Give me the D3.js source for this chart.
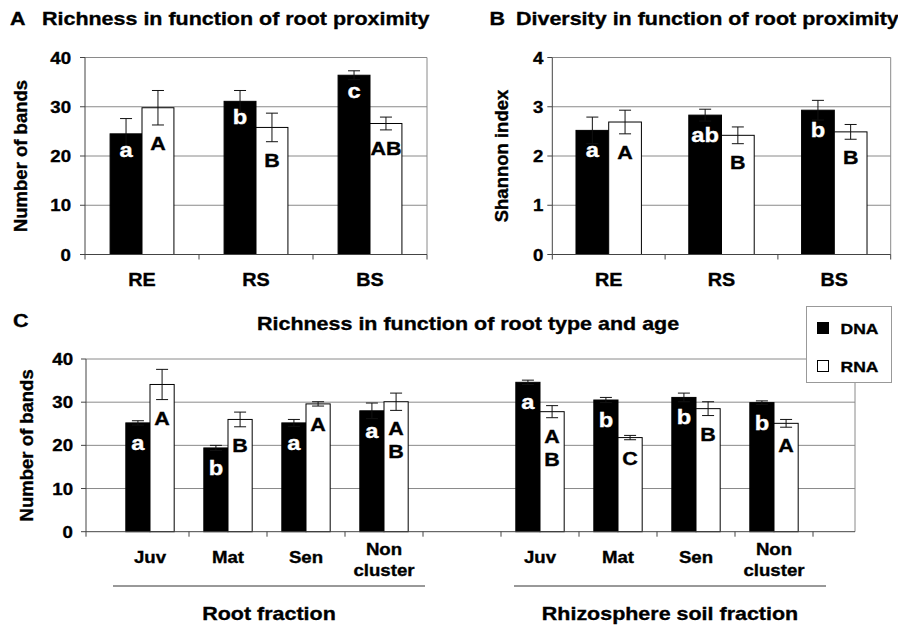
<!DOCTYPE html>
<html>
<head>
<meta charset="utf-8">
<script src="https://cdn.jsdelivr.net/npm/d3@7"></script>
<style>
  body { margin: 0; background: #fff; }
  text { font-family: "Liberation Sans", Arial, sans-serif; font-weight: bold; stroke-width: 0.35; }
</style>
</head>
<body>
<div id="chart"></div>
<script>
// ---- data ----
const proximityCats = ["RE", "RS", "BS"];

const richDNA = [24.5, 31.1, 36.4];
const richDNAErr = [3.1, 2.2, 0.9];
const richRNA = [29.8, 25.8, 26.6];
const richRNAErr = [3.5, 2.9, 1.3];
const richDNALetters = ["a", "b", "c"];
const richRNALetters = ["A", "B", "AB"];

const divDNA = [2.52, 2.83, 2.93];
const divDNAErr = [0.27, 0.12, 0.2];
const divRNA = [2.69, 2.42, 2.49];
const divRNAErr = [0.24, 0.17, 0.15];
const divDNALetters = ["a", "ab", "b"];
const divRNALetters = ["A", "B", "B"];

const ageCats = ["Juv", "Mat", "Sen", "Non cluster"];
const fractions = ["Root fraction", "Rhizosphere soil fraction"];

const rootDNA = [25.2, 19.4, 25.2, 28.0];
const rootDNAErr = [0.5, 0.6, 0.8, 1.8];
const rootRNA = [34.1, 26.0, 29.6, 30.1];
const rootRNAErr = [3.5, 1.7, 0.5, 2.0];
const rootDNALetters = ["a", "b", "a", "a"];
const rootRNALetters = ["A", "B", "A", "AB"];

const rhizoDNA = [34.6, 30.5, 31.1, 29.9];
const rhizoDNAErr = [0.5, 0.6, 1.0, 0.4];
const rhizoRNA = [27.8, 21.8, 28.5, 25.1];
const rhizoRNAErr = [1.4, 0.5, 1.6, 0.9];
const rhizoDNALetters = ["a", "b", "b", "b"];
const rhizoRNALetters = ["AB", "C", "B", "A"];

const seriesNames = ["DNA", "RNA"];

// ---- drawing ----
const svg = d3.select("#chart").append("svg")
    .attr("width", 898)
    .attr("height", 625);

const STRETCH = 1.13;   // the figure's lettering is a bit wider than Arial

function label(g, x, y, str, size, anchor, fill) {
    return g.append("text")
        .attr("transform", `translate(${x},${y}) scale(${STRETCH},1)`)
        .attr("text-anchor", anchor || "start")
        .attr("font-size", size)
        .attr("fill", fill || "#000")
        .attr("stroke", fill || "#000")
        .text(str);
}

function buildItems(cats, dna, dnaErr, rna, rnaErr, dl, rl, prefix) {
    return cats.map((c, i) => ({
        key: prefix + c, name: c,
        dna: dna[i], dnaErr: dnaErr[i], rna: rna[i], rnaErr: rnaErr[i],
        dl: dl[i], rl: rl[i]
    }));
}

function drawPanel(cfg) {
    const g = svg.append("g");

    const y = d3.scaleLinear().domain([0, cfg.max]).range([cfg.bottom, cfg.top]);
    const x = d3.scaleBand().domain(cfg.keys).range(cfg.band).padding(0);
    const bw = x.bandwidth() * cfg.barFrac;
    const ticks = y.ticks(4);

    // gridlines and plot frame
    g.selectAll(".grid")
        .data(ticks.filter(t => t > 0))
        .enter().append("line")
        .attr("x1", cfg.left).attr("x2", cfg.right)
        .attr("y1", d => y(d)).attr("y2", d => y(d))
        .attr("stroke", "#8a8a8a");
    g.append("line")
        .attr("x1", cfg.right).attr("x2", cfg.right)
        .attr("y1", y(cfg.max)).attr("y2", y(0))
        .attr("stroke", "#8a8a8a");

    const items = cfg.items;
    const cx = d => x(d.key) + x.bandwidth() / 2;

    // bars
    g.selectAll(".dna")
        .data(items).enter().append("rect")
        .attr("x", d => cx(d) - bw)
        .attr("y", d => y(d.dna))
        .attr("width", bw)
        .attr("height", d => y(0) - y(d.dna))
        .attr("fill", "#000")
        .attr("stroke", "#000");
    g.selectAll(".rna")
        .data(items).enter().append("rect")
        .attr("x", d => cx(d))
        .attr("y", d => y(d.rna))
        .attr("width", bw)
        .attr("height", d => y(0) - y(d.rna))
        .attr("fill", "#fff")
        .attr("stroke", "#000");

    // error bars
    const errs = [];
    items.forEach(d => {
        errs.push({ x: cx(d) - bw / 2, v: d.dna, e: d.dnaErr });
        errs.push({ x: cx(d) + bw / 2, v: d.rna, e: d.rnaErr });
    });
    const eb = g.selectAll(".err").data(errs).enter().append("g").attr("stroke", "#111");
    eb.append("line")
        .attr("x1", d => d.x).attr("x2", d => d.x)
        .attr("y1", d => y(d.v - d.e)).attr("y2", d => y(d.v + d.e));
    eb.append("line")
        .attr("x1", d => d.x - 6).attr("x2", d => d.x + 6)
        .attr("y1", d => y(d.v + d.e)).attr("y2", d => y(d.v + d.e));
    eb.append("line")
        .attr("x1", d => d.x - 6).attr("x2", d => d.x + 6)
        .attr("y1", d => y(d.v - d.e)).attr("y2", d => y(d.v - d.e));

    // significance letters
    items.forEach(d => {
        label(g, cx(d) - bw / 2, y(d.dna) + cfg.dnaLetterOff + 6, d.dl, 21, "middle", "#fff");
        const parts = cfg.stackLetters ? d.rl.split("") : [d.rl];
        parts.forEach((p, j) => {
            label(g, cx(d) + bw / 2, y(d.rna - d.rnaErr) + 18.5 + 6.5 + j * 23, p, 19, "middle", "#000");
        });
    });

    // axes
    g.append("line")
        .attr("x1", cfg.left).attr("x2", cfg.left)
        .attr("y1", y(cfg.max)).attr("y2", y(0))
        .attr("stroke", "#444");
    g.append("line")
        .attr("x1", cfg.left).attr("x2", cfg.right)
        .attr("y1", y(0)).attr("y2", y(0))
        .attr("stroke", "#444");
    g.selectAll(".ytick")
        .data(ticks).enter().append("line")
        .attr("x1", cfg.left - 5).attr("x2", cfg.left)
        .attr("y1", d => y(d)).attr("y2", d => y(d))
        .attr("stroke", "#444");
    ticks.forEach(t => label(g, cfg.left - cfg.tickGap, y(t) + 6, t, 16.5, "end"));

    const bounds = [cfg.left].concat(cfg.keys.map((k, i) => cfg.band[0] + (i + 1) * x.bandwidth()));
    g.selectAll(".xtick")
        .data(bounds).enter().append("line")
        .attr("x1", d => d).attr("x2", d => d)
        .attr("y1", y(0)).attr("y2", y(0) + 5)
        .attr("stroke", "#444");

    g.append("text")
        .attr("transform", `translate(${cfg.yTitleX},${(cfg.top + cfg.bottom) / 2}) rotate(-90)`)
        .attr("text-anchor", "middle")
        .attr("font-size", 18.5)
        .attr("stroke", "#000")
        .text(cfg.yTitle);

    return { g, x, y };
}

// ---- Panel A ----
label(svg, 10, 25, "A", 19);
label(svg, 42, 25, "Richness in function of root proximity", 19);
const pa = drawPanel({
    keys: proximityCats, band: [85, 427], left: 85, right: 427,
    top: 57.5, bottom: 254.5, max: 40, barFrac: 0.28, tickGap: 14,
    dnaLetterOff: 17, stackLetters: false,
    yTitle: "Number of bands", yTitleX: 26.5,
    items: buildItems(proximityCats, richDNA, richDNAErr, richRNA, richRNAErr, richDNALetters, richRNALetters, "")
});
proximityCats.forEach(c => label(pa.g, pa.x(c) + pa.x.bandwidth() / 2, 286, c, 17.5, "middle"));

// ---- Panel B ----
label(svg, 489.5, 25, "B", 19);
label(svg, 516, 25, "Diversity in function of root proximity", 19);
const pb = drawPanel({
    keys: proximityCats, band: [552.3, 890.7], left: 552.3, right: 890.7,
    top: 57.5, bottom: 254.5, max: 4, barFrac: 0.29, tickGap: 9,
    dnaLetterOff: 21, stackLetters: false,
    yTitle: "Shannon index", yTitleX: 508,
    items: buildItems(proximityCats, divDNA, divDNAErr, divRNA, divRNAErr, divDNALetters, divRNALetters, "")
});
proximityCats.forEach(c => label(pb.g, pb.x(c) + pb.x.bandwidth() / 2, 286, c, 17.5, "middle"));

// ---- Panel C ----
label(svg, 13, 326.5, "C", 19);
label(svg, 257, 330, "Richness in function of root type and age", 19);

const rootItems = buildItems(ageCats, rootDNA, rootDNAErr, rootRNA, rootRNAErr, rootDNALetters, rootRNALetters, "root ");
const rhizoItems = buildItems(ageCats, rhizoDNA, rhizoDNAErr, rhizoRNA, rhizoRNAErr, rhizoDNALetters, rhizoRNALetters, "rhizo ");
const cKeys = rootItems.map(d => d.key).concat(["gap"], rhizoItems.map(d => d.key));

const pc = drawPanel({
    keys: cKeys, band: [111, 813], left: 86, right: 855,
    top: 359, bottom: 531.7, max: 40, barFrac: 0.31, tickGap: 13,
    dnaLetterOff: 21, stackLetters: true,
    yTitle: "Number of bands", yTitleX: 33,
    items: rootItems.concat(rhizoItems)
});

[rootItems, rhizoItems].forEach((grp, gi) => {
    grp.forEach(d => {
        const xc = pc.x(d.key) + pc.x.bandwidth() / 2;
        const words = d.name.split(" ");
        if (words.length === 1) {
            label(pc.g, xc, 563, d.name, 16.5, "middle");
        } else {
            label(pc.g, xc, 555, words[0], 16.5, "middle");
            label(pc.g, xc, 576, words[1], 16.5, "middle");
        }
    });
    // bracket under each fraction
    const shift = gi === 0 ? 2 : 13;
    const x0 = pc.x(grp[0].key) + shift;
    const x1 = pc.x(grp[grp.length - 1].key) + pc.x.bandwidth() + shift;
    pc.g.append("line")
        .attr("x1", x0).attr("x2", x1)
        .attr("y1", 586).attr("y2", 586)
        .attr("stroke", "#333");
    label(pc.g, (x0 + x1) / 2, 620, fractions[gi], 19, "middle");
});

// legend
const leg = svg.append("g").attr("transform", "translate(806.5,306.5)");
leg.append("rect")
    .attr("width", 85).attr("height", 76)
    .attr("fill", "#fff").attr("stroke", "#999");
seriesNames.forEach((s, i) => {
    leg.append("rect")
        .attr("x", 11).attr("y", 16 + i * 38)
        .attr("width", 11).attr("height", 11)
        .attr("fill", i === 0 ? "#000" : "#fff")
        .attr("stroke", "#000");
    label(leg, 34, 27 + i * 38, s, 15.5);
});
</script>
</body>
</html>
